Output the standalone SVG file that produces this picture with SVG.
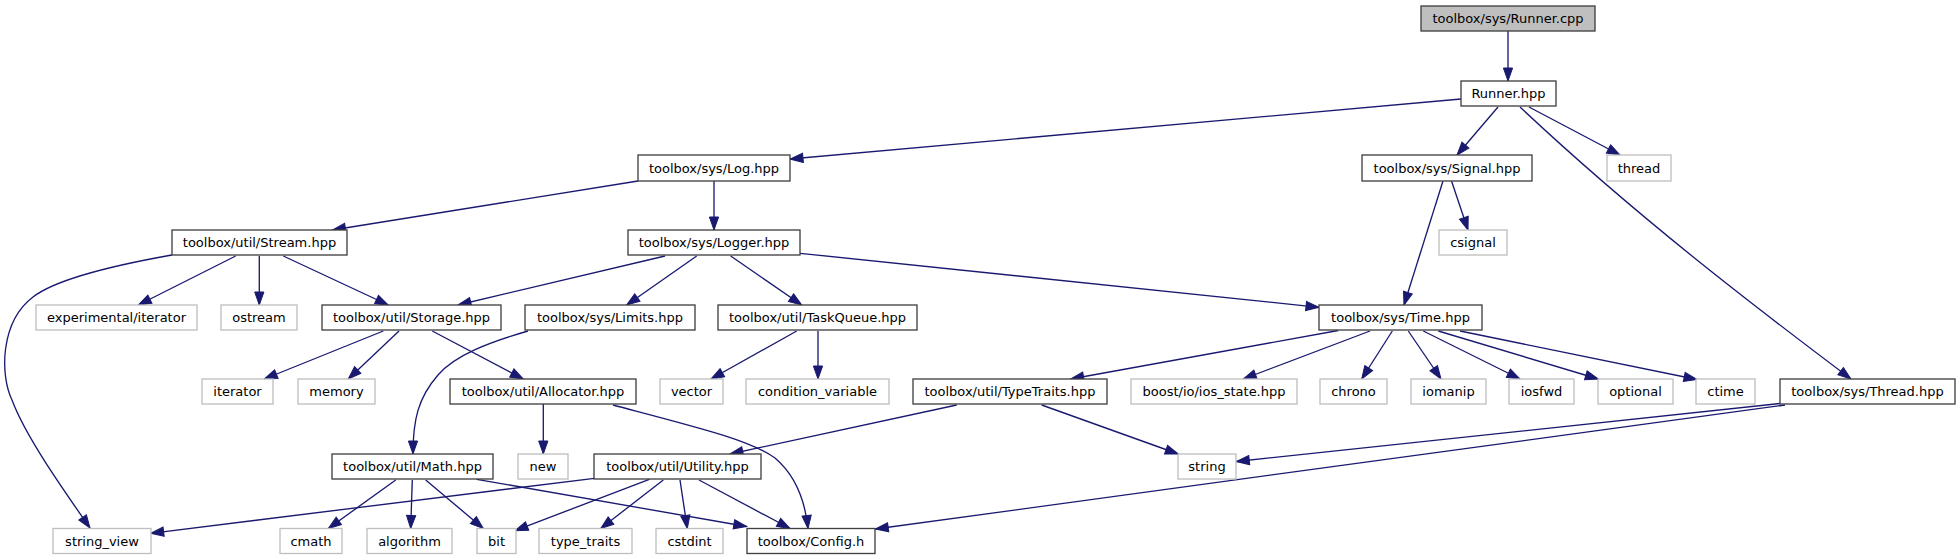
<svg xmlns="http://www.w3.org/2000/svg" width="1960" height="560" viewBox="0 0 1960 560">
<style>
.n rect{fill:#fff;stroke:#404040;stroke-width:1.33}
.x rect{fill:#fff;stroke:#bfbfbf;stroke-width:1.33}
.r rect{fill:#bfbfbf;stroke:#404040;stroke-width:1.33}
text{font-family:"DejaVu Sans","Liberation Sans",sans-serif;font-size:13px;text-anchor:middle;fill:#000}
#edges path{fill:none;stroke:#191970;stroke-width:1.33;marker-end:url(#a)}
</style>
<defs>
<marker id="a" markerUnits="userSpaceOnUse" markerWidth="14" markerHeight="10" refX="13" refY="5" orient="auto" overflow="visible">
<path d="M0,0.4 L13,5 L0,9.6 z" fill="#191970" stroke="#191970" stroke-width="1"/>
</marker>
</defs>
<rect width="1960" height="560" fill="#fff"/>
<g id="edges">
<path d="M1508,31 L1508,81"/>
<path d="M1461,99 L790,159"/>
<path d="M1498,107 L1457,155"/>
<path d="M1529,107 L1620,155"/>
<path d="M1520,107 C1637,217 1758,309 1851,379"/>
<path d="M638,181 L332.5,230"/>
<path d="M714,181 L714,230"/>
<path d="M1451.5,181 L1468,230"/>
<path d="M1443,181 L1404,305"/>
<path d="M172,255 C110,266 55,280 33,297 C0,322 0,375 12,400 C25,435 60,485 90,528"/>
<path d="M235.7,256 L138.3,305"/>
<path d="M259.3,256 L259.3,305"/>
<path d="M283.3,256 L388.3,305"/>
<path d="M665,256 L458,305"/>
<path d="M696.7,256 L626.7,305"/>
<path d="M730.7,256 L801.7,305"/>
<path d="M800,253.3 L1319,307.3"/>
<path d="M383.3,331 L264.3,379"/>
<path d="M399,331 L348.3,379"/>
<path d="M432.3,331 L523.3,379"/>
<path d="M528,331 C490,342 455,355 438,375 C418,398 413,420 413,454"/>
<path d="M796.7,331 L711,379"/>
<path d="M818,331 L818,379"/>
<path d="M543.3,404 L543.3,454"/>
<path d="M613,405 C700,428 750,440 775,458 C795,475 805,500 808,528.5"/>
<path d="M956.7,405 L730,454"/>
<path d="M1041.7,405 L1178.3,454"/>
<path d="M1338.3,330.5 L1070.7,379"/>
<path d="M1370,331 L1243.3,379"/>
<path d="M1392.3,331 L1361.7,379"/>
<path d="M1408.3,331 L1441,379"/>
<path d="M1423.3,331 L1520,379"/>
<path d="M1438.3,331 L1598.3,379"/>
<path d="M1460,331 L1697,379.5"/>
<path d="M1780,403.5 L1236.3,461.5"/>
<path d="M1785,405 L875.3,529"/>
<path d="M594.3,478.3 L150.7,533.3"/>
<path d="M476.7,479.3 L746.7,526.5"/>
<path d="M395.7,480 L328.3,528.5"/>
<path d="M412.3,480 L410.7,528.5"/>
<path d="M425.7,480 L483.3,528.5"/>
<path d="M649.3,479.3 L515,530.7"/>
<path d="M663.3,480 L600.7,528.5"/>
<path d="M680,480 L687.3,528.5"/>
<path d="M699,480 L790,528.5"/>
</g>
<g id="runner-cpp" class="r"><rect x="1421" y="6" width="174" height="25"/><text x="1508" y="23">toolbox/sys/Runner.cpp</text></g>
<g id="runner-hpp" class="n"><rect x="1461" y="81" width="95" height="25"/><text x="1508.5" y="98">Runner.hpp</text></g>
<g id="log-hpp" class="n"><rect x="638" y="155" width="152" height="26"/><text x="714" y="172.5">toolbox/sys/Log.hpp</text></g>
<g id="signal-hpp" class="n"><rect x="1362" y="155" width="170" height="26"/><text x="1447" y="172.5">toolbox/sys/Signal.hpp</text></g>
<g id="thread" class="x"><rect x="1607" y="155" width="64" height="26"/><text x="1639" y="172.5">thread</text></g>
<g id="stream-hpp" class="n"><rect x="172" y="230" width="175" height="25"/><text x="259.5" y="247">toolbox/util/Stream.hpp</text></g>
<g id="logger-hpp" class="n"><rect x="628" y="230" width="172" height="25"/><text x="714" y="247">toolbox/sys/Logger.hpp</text></g>
<g id="csignal" class="x"><rect x="1439" y="230" width="68" height="25"/><text x="1473" y="247">csignal</text></g>
<g id="experimental-iterator" class="x"><rect x="36" y="305" width="161" height="25"/><text x="116.5" y="322">experimental/iterator</text></g>
<g id="ostream" class="x"><rect x="221" y="305" width="76" height="25"/><text x="259" y="322">ostream</text></g>
<g id="storage-hpp" class="n"><rect x="322" y="305" width="179" height="25"/><text x="411.5" y="322">toolbox/util/Storage.hpp</text></g>
<g id="limits-hpp" class="n"><rect x="525" y="305" width="170" height="25"/><text x="610" y="322">toolbox/sys/Limits.hpp</text></g>
<g id="taskqueue-hpp" class="n"><rect x="718" y="305" width="199" height="25"/><text x="817.5" y="322">toolbox/util/TaskQueue.hpp</text></g>
<g id="time-hpp" class="n"><rect x="1319" y="305" width="163" height="25"/><text x="1400.5" y="322">toolbox/sys/Time.hpp</text></g>
<g id="iterator" class="x"><rect x="202" y="379" width="71" height="25"/><text x="237.5" y="396">iterator</text></g>
<g id="memory" class="x"><rect x="298" y="379" width="77" height="25"/><text x="336.5" y="396">memory</text></g>
<g id="allocator-hpp" class="n"><rect x="450" y="379" width="186" height="25"/><text x="543" y="396">toolbox/util/Allocator.hpp</text></g>
<g id="vector" class="x"><rect x="660" y="379" width="63" height="25"/><text x="691.5" y="396">vector</text></g>
<g id="condition-variable" class="x"><rect x="746" y="379" width="143" height="25"/><text x="817.5" y="396">condition_variable</text></g>
<g id="typetraits-hpp" class="n"><rect x="913" y="379" width="194" height="25"/><text x="1010" y="396">toolbox/util/TypeTraits.hpp</text></g>
<g id="boost-ios-state" class="x"><rect x="1131" y="379" width="166" height="25"/><text x="1214" y="396">boost/io/ios_state.hpp</text></g>
<g id="chrono" class="x"><rect x="1320" y="379" width="67" height="25"/><text x="1353.5" y="396">chrono</text></g>
<g id="iomanip" class="x"><rect x="1411" y="379" width="75" height="25"/><text x="1448.5" y="396">iomanip</text></g>
<g id="iosfwd" class="x"><rect x="1509" y="379" width="65" height="25"/><text x="1541.5" y="396">iosfwd</text></g>
<g id="optional" class="x"><rect x="1598" y="379" width="75" height="25"/><text x="1635.5" y="396">optional</text></g>
<g id="ctime" class="x"><rect x="1696" y="379" width="59" height="25"/><text x="1725.5" y="396">ctime</text></g>
<g id="thread-hpp" class="n"><rect x="1780" y="379" width="175" height="25"/><text x="1867.5" y="396">toolbox/sys/Thread.hpp</text></g>
<g id="math-hpp" class="n"><rect x="332" y="454" width="161" height="25"/><text x="412.5" y="471">toolbox/util/Math.hpp</text></g>
<g id="new" class="x"><rect x="518" y="454" width="50" height="25"/><text x="543" y="471">new</text></g>
<g id="utility-hpp" class="n"><rect x="594" y="454" width="167" height="25"/><text x="677.5" y="471">toolbox/util/Utility.hpp</text></g>
<g id="string" class="x"><rect x="1178" y="454" width="58" height="25"/><text x="1207" y="471">string</text></g>
<g id="string-view" class="x"><rect x="53" y="528.5" width="98" height="25"/><text x="102" y="545.5">string_view</text></g>
<g id="cmath" class="x"><rect x="280" y="528.5" width="62" height="25"/><text x="311" y="545.5">cmath</text></g>
<g id="algorithm" class="x"><rect x="367" y="528.5" width="85" height="25"/><text x="409.5" y="545.5">algorithm</text></g>
<g id="bit" class="x"><rect x="477" y="528.5" width="39" height="25"/><text x="496.5" y="545.5">bit</text></g>
<g id="type-traits" class="x"><rect x="539" y="528.5" width="93" height="25"/><text x="585.5" y="545.5">type_traits</text></g>
<g id="cstdint" class="x"><rect x="656" y="528.5" width="67" height="25"/><text x="689.5" y="545.5">cstdint</text></g>
<g id="config-h" class="n"><rect x="747" y="528.5" width="128" height="25"/><text x="811" y="545.5">toolbox/Config.h</text></g>
</svg>
